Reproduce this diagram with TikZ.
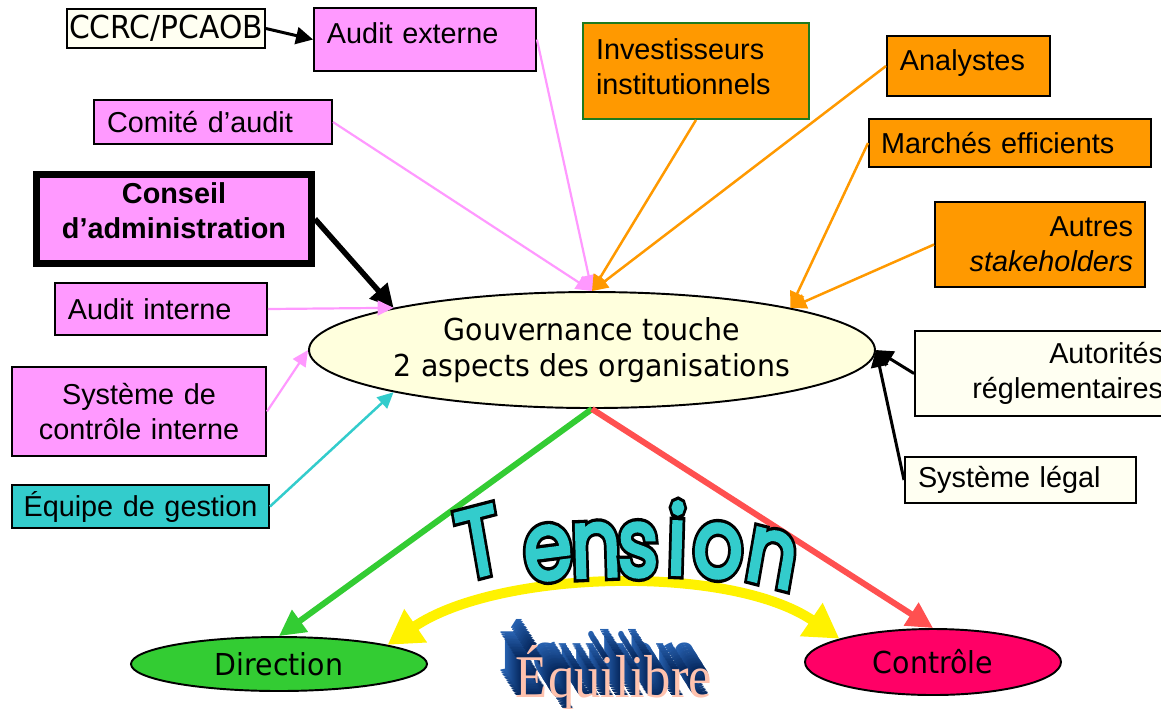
\documentclass[tikz,border=0pt]{standalone}
\usepackage{fontspec}
\setmainfont{Liberation Sans}
\newfontfamily\tahoma[FakeStretch=0.94]{DejaVu Sans}
\newfontfamily\tensionfont[FakeBold=4]{Poppins}
\newfontfamily\tensionrimfont[FakeBold=11]{Poppins}
\newfontfamily\equifont{Liberation Serif}
\usetikzlibrary{shapes.geometric,arrows.meta}

\definecolor{boxpink}{HTML}{FF99FF}
\definecolor{boxorange}{HTML}{FF9900}
\definecolor{boxcream}{HTML}{FFFFF2}
\definecolor{govfill}{HTML}{FFFFDD}
\definecolor{teamcyan}{HTML}{33CCCC}
\definecolor{dirgreen}{HTML}{33CC33}
\definecolor{ctrlred}{HTML}{FF0066}
\definecolor{linered}{HTML}{FF5050}
\definecolor{investgreen}{HTML}{1F7A1F}
\definecolor{eqdark}{HTML}{06275C}
\definecolor{eqlight}{HTML}{2F6FC4}
\definecolor{eqface}{HTML}{FFC2AE}

\tikzset{
    box/.style={draw, line width=0.55pt, inner ysep=0pt, align=left,
        font=\fontsize{8.2}{10}\selectfont},
    pinkbox/.style={box, fill=boxpink},
    orangebox/.style={box, fill=boxorange},
    creambox/.style={box, fill=boxcream},
    oval/.style={ellipse, draw, line width=0.55pt, inner sep=0pt,
        font=\tahoma\fontsize{8.6}{10.2}\selectfont},
    pinkline/.style={draw=boxpink, line width=0.22mm,
        -{Triangle[length=1.6mm, width=1.5mm]}},
    orangeline/.style={draw=boxorange, line width=0.25mm,
        -{Triangle[length=1.6mm, width=1.5mm]}},
    cyanline/.style={draw=teamcyan, line width=0.25mm,
        -{Triangle[length=1.6mm, width=1.5mm]}},
    blackline/.style={draw=black, line width=0.3mm,
        -{Triangle[length=1.7mm, width=1.7mm]}},
    boardline/.style={draw=black, line width=0.55mm,
        -{Triangle[length=2.3mm, width=2.3mm]}},
    greenarrow/.style={draw=dirgreen, line width=0.6mm,
        -{Triangle[length=2.6mm, width=2.6mm]}},
    redarrow/.style={draw=linered, line width=0.6mm,
        -{Triangle[length=2.6mm, width=2.6mm]}},
    yellowarrow/.style={draw=yellow, line width=1mm,
        {Triangle[length=3.4mm, width=3.8mm]}-{Triangle[length=3.4mm, width=3.8mm]}},
    tensionletter/.style={inner sep=0pt, text=teamcyan, xscale=0.82,
        font=\tensionfont\fontsize{27}{27}\selectfont},
    tensionrim/.style={tensionletter, text=black,
        font=\tensionrimfont\fontsize{27}{27}\selectfont},
    equiface/.style={inner sep=0pt, text=eqface, yscale=1.15,
        font=\equifont\fontsize{15}{15}\selectfont},
}

\begin{document}
\begin{tikzpicture}[x=0.1mm, y=-0.1mm]
    \useasboundingbox (0,0) rectangle (1161,708);

    \node[oval, fill=govfill, minimum width=56.6mm, minimum height=11.6mm,
        align=center] (gov) at (592,350)
        {Gouvernance touche\\2 aspects des organisations};
    \node[oval, fill=dirgreen, minimum width=29.6mm, minimum height=5.4mm]
        (dir) at (279,664) {Direction};
    \node[oval, fill=ctrlred, minimum width=25.6mm, minimum height=6.6mm]
        (ctrl) at (933,662) {Contrôle};

    \node[creambox, font=\tahoma\fontsize{9}{10}\selectfont,
        minimum width=19.8mm, minimum height=3.9mm, inner xsep=0pt]
        (ccrc) at (166,28.5) {CCRC/PCAOB};
    \node[pinkbox, text width=19.6mm, inner xsep=1.3mm, text height=3.5mm,
        text depth=2.8mm] (audext) at (425,39.5) {Audit externe};
    \node[pinkbox, text width=21.2mm, inner xsep=1.3mm, minimum height=4.4mm]
        (comite) at (213,122) {Comité d’audit};
    \node[pinkbox, line width=0.7mm, text width=25.1mm, inner xsep=1.2mm,
        align=center, text height=2.9mm, text depth=6mm,
        font=\bfseries\fontsize{8.2}{10}\selectfont]
        (conseil) at (174,219) {Conseil\\d’administration};
    \node[pinkbox, text width=18.6mm, inner xsep=1.3mm, minimum height=5.2mm]
        (audint) at (161,309) {Audit interne};
    \node[pinkbox, text width=23.4mm, inner xsep=1mm, align=center,
        minimum height=8.9mm] (syscon) at (139,411.5)
        {Système de\\contrôle interne};
    \node[box, fill=teamcyan, text width=24.5mm, inner xsep=0.6mm,
        align=center, minimum height=4.3mm] (equipe) at (140.5,506.5)
        {Équipe de gestion};

    \node[orangebox, draw=investgreen, text width=20mm, inner xsep=1.3mm,
        text height=3.65mm, text depth=5.95mm] (invest) at (696,71)
        {Investisseurs\\institutionnels};
    \node[orangebox, text width=13.7mm, inner xsep=1.3mm, text height=3.4mm,
        text depth=2.6mm] (analyst) at (968.5,66) {Analystes};
    \node[orangebox, text width=25.8mm, inner xsep=1.2mm, minimum height=4.8mm]
        (marches) at (1010,143) {Marchés efficients};
    \node[orangebox, text width=18.6mm, inner xsep=1.2mm, align=right,
        minimum height=8.5mm] (autres) at (1040,244.5)
        {Autres\\\textit{stakeholders}};
    \node[creambox, text width=23.6mm, inner xsep=1.2mm, align=right,
        minimum height=8.5mm] (autor) at (1045,373.5)
        {Autorités\\réglementaires};
    \node[creambox, text width=20.5mm, inner xsep=1.3mm, minimum height=4.6mm]
        (legal) at (1020.5,480) {Système légal};

    \draw[blackline] (ccrc.east) -- (audext.west);
    \draw[pinkline] (audext.east) -- (gov.north);
    \draw[pinkline] (comite.east) -- (gov.north);
    \draw[boardline] (conseil.east) -- (gov.168);
    \draw[pinkline] (audint.east) -- (gov.168);
    \draw[pinkline] (syscon.east) -- (gov.west);
    \draw[cyanline] (equipe.east) -- (gov.192);
    \draw[orangeline] (invest.south) -- (gov.north);
    \draw[orangeline] (analyst.west) -- (gov.north);
    \draw[orangeline] (marches.west) -- (gov.12);
    \draw[orangeline] (autres.west) -- (gov.12);
    \draw[blackline] (autor.west) -- (gov.east);
    \draw[blackline] (legal.west) -- (gov.east);

    \draw[greenarrow] (gov.south) -- (dir.north);
    \draw[redarrow] (gov.south) -- (ctrl.north);
    \draw[yellowarrow] (ctrl.166) .. controls +(-110,-75) and +(110,-75)
        .. (dir.10);

    \foreach \ch/\px/\py/\rot [count=\i] in {T/479/542/12, e/548/553/6,
        n/596/550/2, s/638/550/0, i/677/538/-2, o/718/551/-5, n/772/558/-12} {
        \node[tensionrim, rotate=\rot] (rim\i) at (\px,\py) {\ch};
        \node[tensionletter, rotate=\rot] (ten\i) at (\px,\py) {\ch};
    }

    \foreach \k [evaluate=\k as \m using 100-5*\k] in {16,15,...,1}
        \node[equiface, text=eqdark!\m!eqlight, shift={(-1*\k,-1.4*\k)}]
            (eq\k) at (614,678) {Équilibre};
    \node[equiface] (equi) at (614,678) {Équilibre};
\end{tikzpicture}
\end{document}
